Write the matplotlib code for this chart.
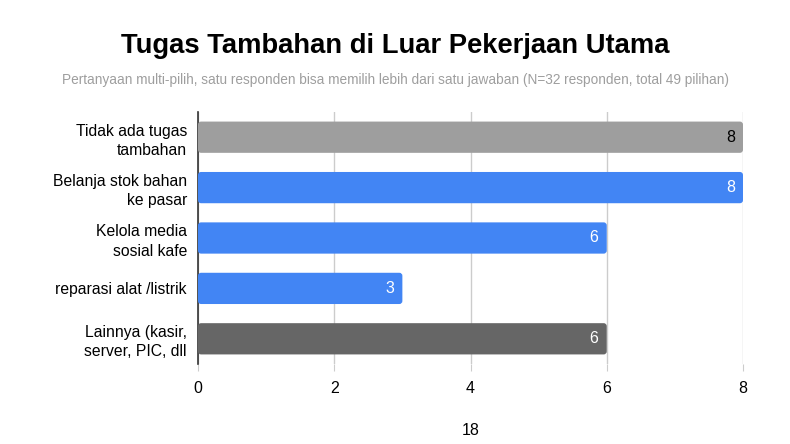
import matplotlib.pyplot as plt
from matplotlib.patches import FancyBboxPatch

plt.rcParams['font.family'] = ['Liberation Sans', 'DejaVu Sans']

# data
categories = ['Tidak ada tugas\ntambahan', 'Belanja stok bahan\nke pasar',
              'Kelola media\nsosial kafe', 'reparasi alat /listrik',
              'Lainnya (kasir,\nserver, PIC, dll']
values = [8, 8, 6, 3, 6]
colors = ['#9e9e9e', '#4285f4', '#4285f4', '#4285f4', '#666666']
label_colors = ['black', 'white', 'white', 'white', 'white']
xticks = [0, 2, 4, 6, 8]

fig = plt.figure(figsize=(7.9, 4.44), dpi=100)
ax = fig.add_axes([198 / 790, 1 - 364 / 444, 545 / 790, 252 / 444])

y = list(range(len(categories)))
bars = ax.barh(y, values, height=0.62, color=colors, zorder=3)
# swap plain bars for slightly rounded ones
for b in bars:
    x0, y0 = b.get_x(), b.get_y()
    w, h = b.get_width(), b.get_height()
    rp = FancyBboxPatch((x0, y0), w, h, boxstyle='round,pad=0,rounding_size=0.045',
                        mutation_aspect=1.35, facecolor=b.get_facecolor(),
                        edgecolor='none', zorder=3)
    b.set_visible(False)
    ax.add_patch(rp)
for yi, v, c in zip(y, values, label_colors):
    ax.text(v - 0.12, yi, str(v), ha='right', va='center', color=c, fontsize=11.5, zorder=4)

ax.set_xlim(0, 8)
ax.set_ylim(4.5, -0.5)
ax.set_yticks(y)
ax.set_yticklabels(categories, fontsize=11.3, ha='right', multialignment='right', linespacing=1.35)
ax.set_xticks(xticks)
ax.set_xticklabels([str(t) for t in xticks], fontsize=11.5)
ax.tick_params(axis='y', length=0, pad=8)
ax.tick_params(axis='x', length=5, color='#cccccc', pad=7)
ax.xaxis.grid(True, color='#cccccc', linewidth=1, zorder=0)
for s in ['top', 'right', 'bottom']:
    ax.spines[s].set_visible(False)
ax.spines['left'].set_color('#333333')
ax.spines['left'].set_linewidth(1.2)
ax.set_xlabel('18', fontsize=11.5, labelpad=20)

fig.text(0.5, 1 - 46 / 444, 'Tugas Tambahan di Luar Pekerjaan Utama', ha='center', va='center',
         fontsize=19.7, fontweight='bold')
fig.text(0.5, 1 - 80 / 444,
         'Pertanyaan multi-pilih, satu responden bisa memilih lebih dari satu jawaban (N=32 responden, total 49 pilihan)',
         ha='center', va='center', fontsize=9.85, color='#9e9e9e')

fig.savefig('out.png', dpi=100)
